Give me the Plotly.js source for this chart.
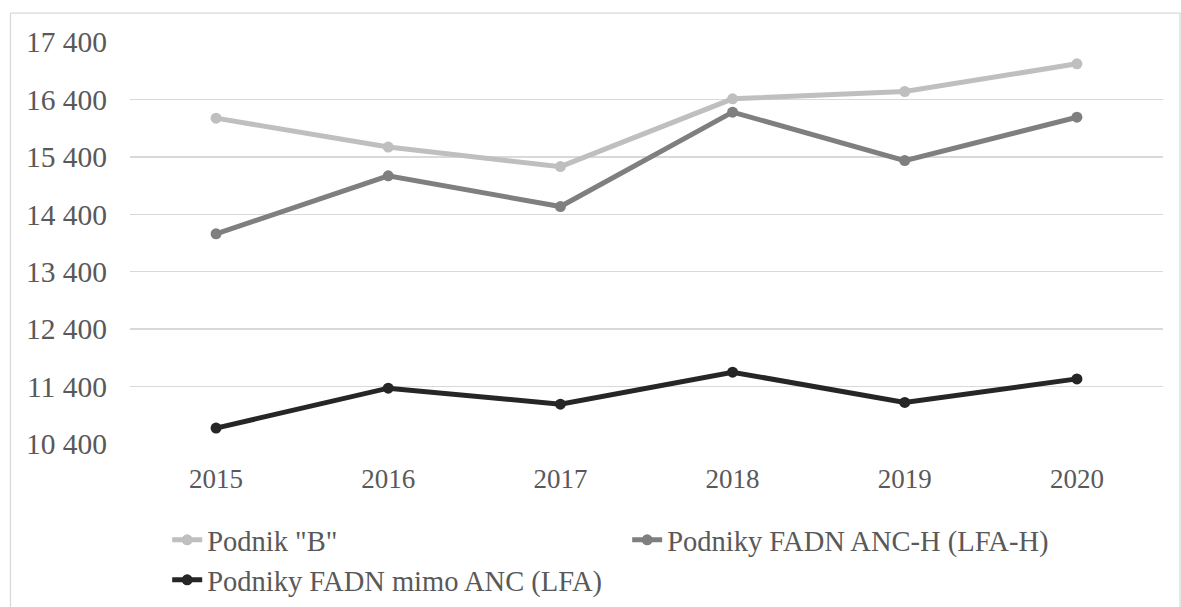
<!DOCTYPE html>
<html>
<head>
<meta charset="utf-8">
<script src="https://cdn.plot.ly/plotly-3.0.1.min.js"></script>
<style>
  body { margin: 0; background: #fff; }
  #plotArea { width: 1181px; height: 607px; }
</style>
</head>
<body>
<div id="plotArea"></div>
<script>
// years on the x axis
var years = ["2015", "2016", "2017", "2018", "2019", "2020"];

// series values
var podnikB = [16074, 15570, 15230, 16410, 16538, 17020];
var ancH = [14060, 15070, 14535, 16178, 15335, 16090];
var mimoAnc = [10677, 11372, 11094, 11650, 11123, 11534];

// y ticks
var yTicks = [10400, 11400, 12400, 13400, 14400, 15400, 16400, 17400];

var names = ['Podnik "B"', "Podniky FADN ANC-H (LFA-H)", "Podniky FADN mimo ANC (LFA)"];
var colors = ["#bfbfbf", "#7f7f7f", "#262626"];
var series = [podnikB, ancH, mimoAnc];

var serif = "Liberation Serif";

var data = series.map(function (vals, i) {
  return {
    x: years,
    y: vals,
    name: names[i],
    type: "scatter",
    mode: "lines+markers",
    line: {color: colors[i], width: 5},
    marker: {color: colors[i], size: 11}
  };
});

var layout = {
  width: 1181,
  height: 607,
  margin: {l: 130, r: 18, t: 41.5, b: 162.5, autoexpand: false},
  paper_bgcolor: "#fff",
  plot_bgcolor: "#fff",
  separators: ", ",
  font: {family: serif, size: 28, color: "#595959"},
  showlegend: true,
  legend: {
    orientation: "h",
    x: 0.036, xanchor: "left",
    y: -0.176, yanchor: "top",
    entrywidth: 415, entrywidthmode: "pixels",
    font: {family: serif, size: 28.5, color: "#595959"},
    traceorder: "normal"
  },
  xaxis: {
    type: "category",
    range: [-0.5, 5.5],
    showgrid: false,
    zeroline: false,
    showline: false,
    ticks: "",
    ticklabelstandoff: 16,
    tickfont: {family: serif, size: 27, color: "#595959"}
  },
  yaxis: {
    range: [10400, 17400],
    tickvals: yTicks,
    tickformat: ",d",
    showgrid: true,
    gridcolor: "#d9d9d9",
    gridwidth: 1.3,
    zeroline: false,
    showline: false,
    ticks: "",
    ticklabelstandoff: 22,
    tickfont: {family: serif, size: 29.5, color: "#595959"}
  },
  shapes: [{
    type: "rect",
    xref: "paper", yref: "paper",
    x0: -0.1157, x1: 1.0165, y0: -0.6, y1: 1.072,
    line: {color: "#d9d9d9", width: 1.3},
    layer: "below"
  }]
};

Plotly.newPlot("plotArea", data, layout, {displayModeBar: false, staticPlot: true});
</script>
</body>
</html>
